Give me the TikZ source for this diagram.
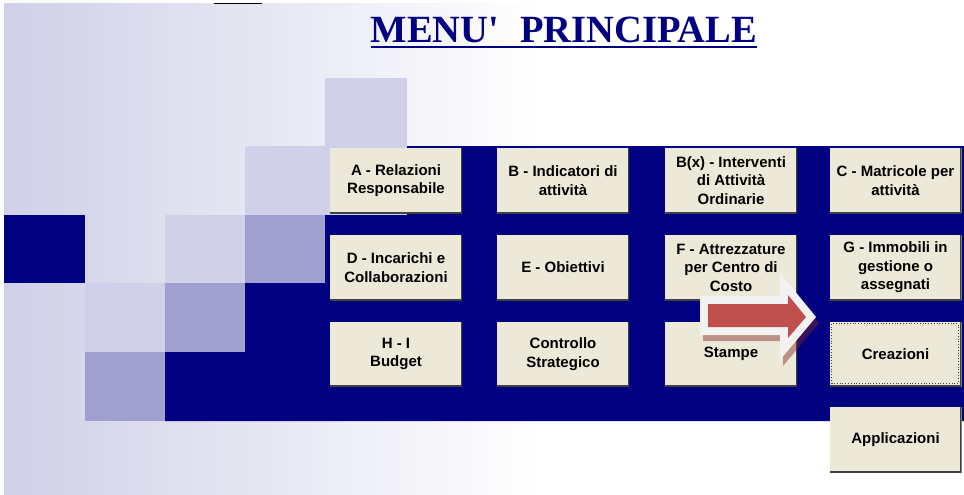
\documentclass[tikz,border=0pt]{standalone}
\usepackage{fontspec}
\newfontfamily\btnfont{Liberation Sans}
\newfontfamily\titlefont{Liberation Serif}[Ligatures=TeXOff]
\definecolor{navy}{RGB}{0,0,128}
\definecolor{lav}{RGB}{208,208,232}
\definecolor{lavlight}{RGB}{208,208,232}
\definecolor{lavmid}{RGB}{160,160,208}
\definecolor{beige}{RGB}{236,233,216}
\definecolor{darkedge}{RGB}{64,64,64}
\definecolor{arrred}{RGB}{192,80,77}
\definecolor{arrwhite}{RGB}{242,242,242}
\definecolor{shadowred}{RGB}{128,40,40}
\tikzset{
  btn/.style={fill=beige, minimum width=132pt, minimum height=65pt, inner sep=0pt,
    align=center, text=black, font=\btnfont\bfseries\fontsize{15}{18.5}\selectfont,
    path picture={\draw[darkedge, line width=3pt]
      (path picture bounding box.south west) -- (path picture bounding box.south east)
      -- (path picture bounding box.north east);}},
  cell/.style={draw=none}
}
\begin{document}
\begin{tikzpicture}[x=1pt,y=-1pt]
\useasboundingbox (0,0) rectangle (964,495);
\fill[white] (0,0) rectangle (964,495);
\shade[left color=lav, right color=white] (4,4) rectangle (540,495);
\fill[white] (540,4) rectangle (964,495);
\draw[black, line width=1pt] (214,4) -- (262,4);
% navy region
\fill[navy] (407,146) -- (964,146) -- (964,421) -- (165,421) -- (165,352) -- (245,352)
  -- (245,283) -- (325,283) -- (325,215) -- (407,215) -- cycle;
\fill[navy] (4,215) rectangle (85,283);
% light squares
\fill[lavlight] (325,78) rectangle (407,215);
\fill[lavlight] (245,146) rectangle (325,215);
\fill[lavlight] (165,215) rectangle (245,283);
\fill[lavlight] (85,283) rectangle (165,352);
% medium squares
\fill[lavmid] (245,215) rectangle (325,283);
\fill[lavmid] (165,283) rectangle (245,352);
\fill[lavmid] (85,352) rectangle (165,421);
% title
\node[anchor=base, inner sep=0pt, text=navy, font=\titlefont\bfseries\fontsize{38.5}{40}\selectfont]
  (title) at (564,43) {MENU'\hspace{0.55em}PRINCIPALE};
\draw[navy, line width=2pt] ([yshift=-4.5pt]title.base west) -- ([yshift=-4.5pt]title.base east);
% buttons
\node[btn] (A) at (396,180.5) {A - Relazioni\\Responsabile};
\node[btn] (B) at (563,180.5) {B - Indicatori di\\attività};
\node[btn] (Bx) at (731,180.5) {B(x) - Interventi\\di Attività\\Ordinarie};
\node[btn] (C) at (895.5,180.5) {C - Matricole per\\attività};
\node[btn] (D) at (396,267.5) {D - Incarichi e\\Collaborazioni};
\node[btn] (E) at (563,267.5) {E - Obiettivi};
\node[btn] (F) at (731,267.5) {F - Attrezzature\\per Centro di\\Costo};
\node[btn] (G) at (895.5,267.5) {G - Immobili in\\gestione o\\assegnati};
\node[btn] (HI) at (396,354) {H - I\\Budget};
\node[btn] (CS) at (563,354) {Controllo\\Strategico};
\node[btn] (ST) at (731,354) {Stampe};
\node[btn] (CR) at (895.5,354) {Creazioni};
\node[btn] (AP) at (895.5,439.5) {Applicazioni};
\draw[darkedge, dotted, line width=0.8pt] ([shift={(2.5,2.5)}]CR.north west) rectangle ([shift={(-3.5,-3.5)}]CR.south east);
% arrow
\fill[shadowred, opacity=0.45] (703,302) -- (783,302) -- (783,279) -- (819,323) -- (783,366) -- (783,341) -- (703,341) -- cycle;
\fill[arrwhite] (700,296) -- (780,296) -- (780,273) -- (816,317) -- (780,360) -- (780,335) -- (700,335) -- cycle;
\fill[arrred] (708,304) -- (788,304) -- (788,295) -- (806,317) -- (788,338) -- (788,327) -- (708,327) -- cycle;
\end{tikzpicture}
\end{document}
